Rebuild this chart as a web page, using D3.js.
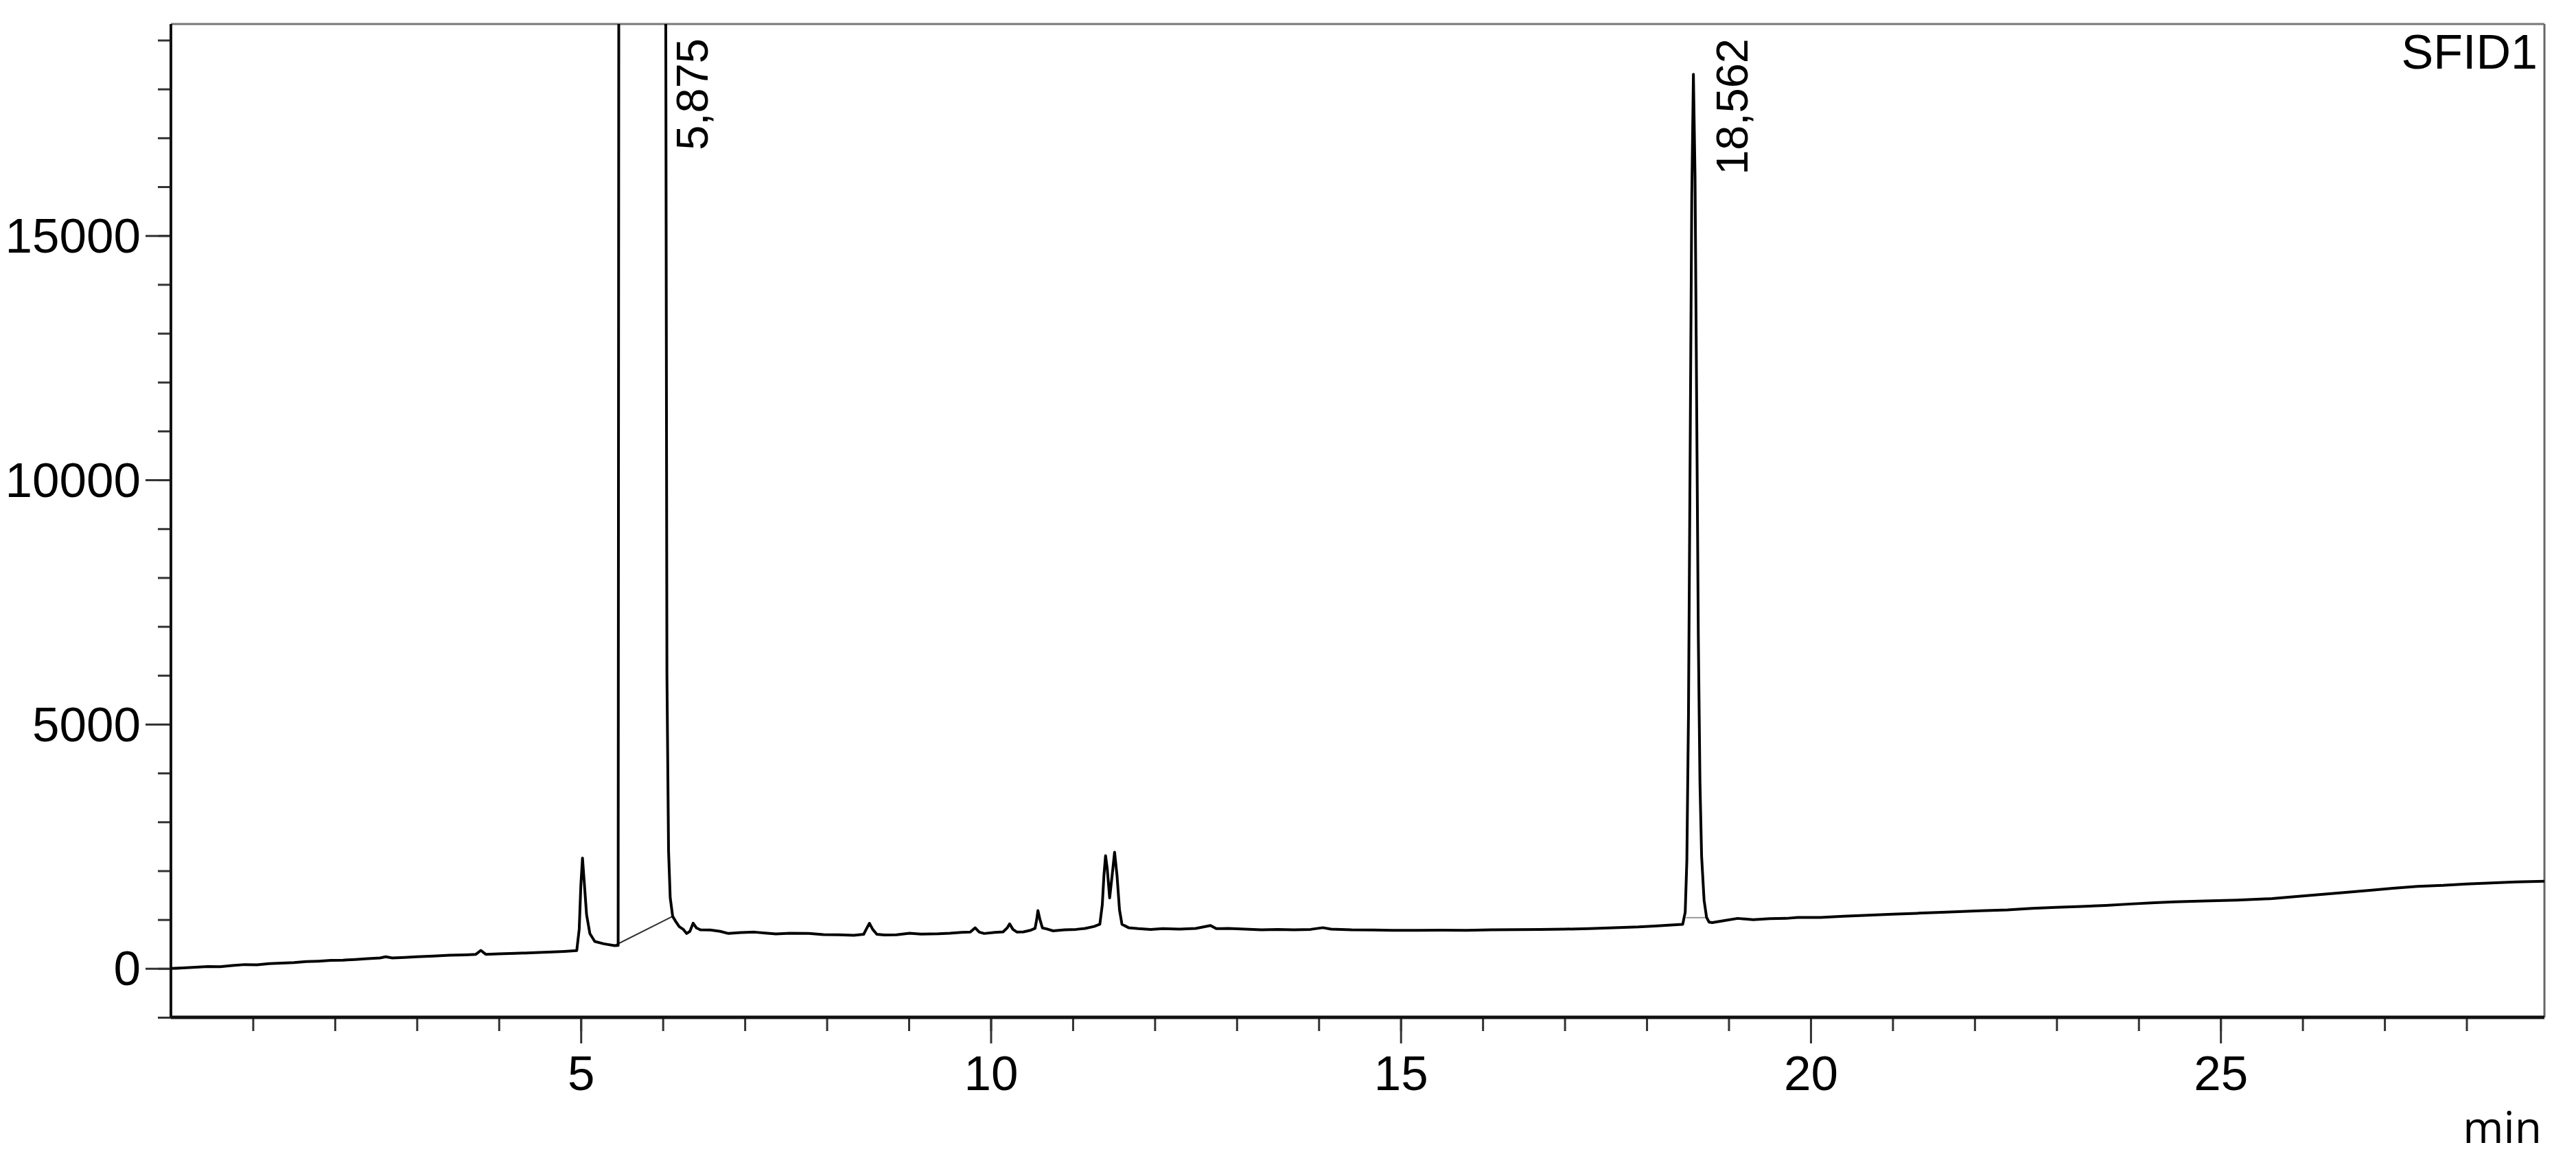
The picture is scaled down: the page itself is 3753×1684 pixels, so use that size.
<!DOCTYPE html>
<html lang="en">
  <head>
    <meta charset="UTF-8" />
    <title>SFID1 chromatogram</title>
    <style>
      body { margin: 0; background: #fff; }
      .tick text { font-family: "Liberation Sans", Arial, sans-serif; font-size: 71px; fill: #000; }
      .tick line { stroke: #333; stroke-width: 3px; }
      .domain { display: none; }
      .trace { fill: none; stroke: #000; stroke-width: 4px; stroke-linejoin: round; }
      .base { fill: none; stroke-width: 2px; }
      .label { font-family: "Liberation Sans", Arial, sans-serif; font-size: 65px; fill: #000; }
    </style>
  </head>
  <body>
    <div id="chart"></div>
    <script src="https://cdn.jsdelivr.net/npm/d3@7"></script>
    <script>
      // retention time (min) and detector signal
      let times = [
        0.0, 0.15, 0.3, 0.45, 0.6, 0.75, 0.9, 1.05, 1.2, 1.35, 1.5, 1.65, 1.8, 1.95,
        2.1, 2.25, 2.4, 2.55, 2.62, 2.7, 2.85, 3.0, 3.2, 3.4, 3.6, 3.72, 3.78, 3.84,
        4.0, 4.2, 4.44, 4.6, 4.8, 4.95, 4.98, 5.0, 5.02, 5.04, 5.07, 5.11, 5.17, 5.28,
        5.41, 5.455, 5.465, 6.03, 6.05, 6.07, 6.09, 6.12, 6.16, 6.2, 6.25, 6.29, 6.33,
        6.37, 6.41, 6.46, 6.58, 6.7, 6.8, 6.95, 7.12, 7.25, 7.38, 7.55, 7.78, 7.96,
        8.15, 8.33, 8.45, 8.48, 8.52, 8.56, 8.61, 8.7, 8.85, 9.01, 9.15, 9.36, 9.5,
        9.64, 9.75, 9.81, 9.86, 9.92, 10.05, 10.15, 10.2, 10.23, 10.27, 10.32, 10.4,
        10.49, 10.54, 10.56, 10.575, 10.6, 10.63, 10.68, 10.76, 10.9, 11.04, 11.15,
        11.26, 11.33, 11.36, 11.38, 11.4, 11.42, 11.45, 11.48, 11.51, 11.54, 11.57,
        11.6, 11.68, 11.8, 11.95, 12.1, 12.3, 12.5, 12.68, 12.75, 12.9, 13.1, 13.3,
        13.5, 13.7, 13.9, 14.05, 14.15, 14.4, 14.67, 14.9, 15.2, 15.5, 15.8, 16.1,
        16.4, 16.7, 17.0, 17.3, 17.6, 17.9, 18.1, 18.3, 18.44, 18.47, 18.49, 18.51,
        18.53, 18.55, 18.57, 18.59, 18.61, 18.63, 18.65, 18.67, 18.7, 18.73, 18.76,
        18.8, 18.95, 19.11, 19.3, 19.5, 19.7, 19.84, 20.12, 20.4, 20.7, 21.0, 21.3,
        21.6, 22.07, 22.4, 22.7, 23.0, 23.3, 23.6, 23.9, 24.2, 24.44, 24.8, 25.2,
        25.63, 25.9, 26.2, 26.5, 26.82, 27.1, 27.4, 27.71, 28.0, 28.3, 28.6, 28.95
      ];
      let signal = [
        0, 10, 25, 40, 35, 60, 80, 75, 100, 110, 120, 140, 150, 165,
        170, 185, 200, 215, 240, 215, 225, 240, 255, 270, 280, 290, 370, 290,
        300, 310, 323, 335, 350, 365, 800, 1700, 2260, 1800, 1100, 715, 552, 505,
        468, 470, 25000, 25000, 6000, 2400, 1450, 1067, 955, 857, 800, 716, 760,
        927, 830, 790, 787, 760, 716, 735, 744, 725, 706, 720, 716, 692,
        690, 680, 700, 800, 925, 800, 700, 685, 690, 720, 705, 710, 720,
        740, 745, 833, 745, 716, 740, 750, 830, 913, 800, 745, 750,
        785, 820, 1000, 1185, 1000, 830, 810, 770, 790, 800, 820,
        860, 905, 1300, 1900, 2310, 2050, 1445, 1900, 2380, 1900, 1200,
        905, 835, 815, 800, 815, 805, 820, 880, 815, 820, 805, 790,
        800, 790, 800, 835, 805, 790, 787, 780, 780, 785, 780, 790,
        795, 800, 805, 815, 833, 850, 870, 890, 905, 1150, 2200, 5200,
        10500, 15800, 18300, 16200, 11500, 6800, 3800, 2300, 1400, 1050, 950,
        940, 980, 1025, 1000, 1020, 1025, 1045, 1045, 1070, 1090, 1110, 1130,
        1150, 1180, 1200, 1230, 1250, 1270, 1290, 1320, 1345, 1365, 1380, 1400,
        1430, 1470, 1510, 1555, 1600, 1640, 1680, 1700, 1730, 1750, 1770, 1785
      ];

      // integration baselines drawn under the labelled peaks
      let baseStart = [[5.41, 468], [18.48, 1040]];
      let baseEnd = [[6.12, 1067], [18.74, 1040]];

      let peakTimes = [5.875, 18.562];
      let peakLabels = ["5,875", "18,562"];

      let xMajor = [5, 10, 15, 20, 25];
      let yMajor = [0, 5000, 10000, 15000];

      let width = 3753,
        height = 1684;
      let plotLeft = 249,
        plotRight = 3707,
        plotTop = 35,
        plotBottom = 1482;

      let x = d3.scaleLinear().domain([0, 28.95]).range([plotLeft, plotRight]);
      let y = d3.scaleLinear().domain([-1000, 19330]).range([plotBottom, plotTop]);

      let svg = d3
        .select("#chart")
        .append("svg")
        .attr("width", width)
        .attr("height", height);

      svg
        .append("clipPath")
        .attr("id", "plot")
        .append("rect")
        .attr("x", plotLeft)
        .attr("y", plotTop)
        .attr("width", plotRight - plotLeft)
        .attr("height", plotBottom - plotTop);

      // minor ticks
      svg
        .append("g")
        .attr("transform", "translate(" + plotLeft + ",0)")
        .call(d3.axisLeft(y).tickValues(d3.range(-1000, 19001, 1000)).tickSize(19).tickFormat(""));
      svg
        .append("g")
        .attr("transform", "translate(0," + plotBottom + ")")
        .call(d3.axisBottom(x).tickValues(d3.range(1, 29)).tickSize(20).tickFormat(""));

      // major ticks with labels
      svg
        .append("g")
        .attr("transform", "translate(" + plotLeft + ",0)")
        .call(d3.axisLeft(y).tickValues(yMajor).tickSize(37).tickPadding(7).tickFormat(d3.format("d")))
        .selectAll("text")
        .attr("dy", "0.34em");
      svg
        .append("g")
        .attr("transform", "translate(0," + plotBottom + ")")
        .call(d3.axisBottom(x).tickValues(xMajor).tickSize(38).tickPadding(18).tickFormat(d3.format("d")))
        .selectAll("text")
        .attr("dy", "0.71em");

      // frame
      svg.append("line").attr("x1", plotLeft).attr("x2", plotRight).attr("y1", plotTop).attr("y2", plotTop)
        .attr("stroke", "#777").attr("stroke-width", 3);
      svg.append("line").attr("x1", plotRight).attr("x2", plotRight).attr("y1", plotTop).attr("y2", plotBottom)
        .attr("stroke", "#666").attr("stroke-width", 3);
      svg.append("line").attr("x1", plotLeft).attr("x2", plotLeft).attr("y1", plotTop).attr("y2", plotBottom)
        .attr("stroke", "#111").attr("stroke-width", 4);
      svg.append("line").attr("x1", plotLeft).attr("x2", plotRight).attr("y1", plotBottom).attr("y2", plotBottom)
        .attr("stroke", "#111").attr("stroke-width", 5);

      let plot = svg.append("g").attr("clip-path", "url(#plot)");

      plot
        .selectAll(".base")
        .data(baseStart)
        .enter()
        .append("line")
        .attr("class", "base")
        .attr("x1", function (d) { return x(d[0]); })
        .attr("y1", function (d) { return y(d[1]); })
        .attr("x2", function (d, i) { return x(baseEnd[i][0]); })
        .attr("y2", function (d, i) { return y(baseEnd[i][1]); })
        .attr("stroke", function (d, i) { return i ? "#999" : "#333"; });

      let line = d3
        .line()
        .x(function (d, i) { return x(times[i]); })
        .y(function (d) { return y(d); });

      plot.append("path").attr("class", "trace").attr("d", line(signal));

      svg
        .selectAll(".label")
        .data(peakTimes)
        .enter()
        .append("text")
        .attr("class", "label")
        .attr("text-anchor", "end")
        .attr("transform", function (d) {
          return "translate(" + (x(d) + 80) + ",56) rotate(-90)";
        })
        .text(function (d, i) { return peakLabels[i]; });

      svg
        .append("text")
        .attr("text-anchor", "end")
        .attr("x", 3697)
        .attr("y", 100)
        .style("font-family", "'Liberation Sans', Arial, sans-serif")
        .style("font-size", "70px")
        .text("SFID1");

      svg
        .append("text")
        .attr("text-anchor", "end")
        .attr("x", 3703)
        .attr("y", 1665)
        .style("font-family", "'Open Sans', sans-serif")
        .style("font-size", "64px")
        .text("min");
    </script>
  </body>
</html>
